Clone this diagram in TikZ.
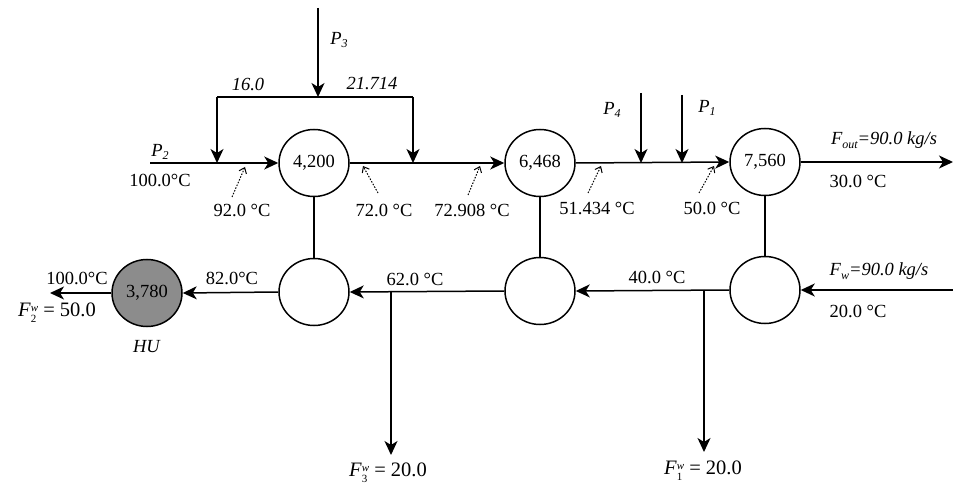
\documentclass[tikz,border=0pt]{standalone}
\usepackage{fontspec}
\setmainfont{Liberation Serif}
\usetikzlibrary{arrows.meta,shapes.geometric}
\newcommand\ssub[1]{\raisebox{-0.45ex}{\fontsize{12}{12}\selectfont #1}}
\newcommand\subsup[2]{\raisebox{-1pt}{\fontsize{11}{11}\selectfont\begin{tabular}{@{}l@{}}\itshape #2\\[0pt]#1\end{tabular}}}
\tikzset{
  unit/.style={draw, ellipse, line width=1.5pt, minimum width=70pt, minimum height=67pt, inner sep=0pt},
  hu/.style={unit, fill=black!45},
  flow/.style={line width=1.5pt, -{Stealth[length=14pt,width=13pt,inset=4pt]}},
  plain/.style={line width=1.5pt},
  probe/.style={line width=1pt, dash pattern=on 1.5pt off 1.5pt, -{Straight Barb[length=5pt,width=8pt]}},
  lbl/.style={inner sep=0pt, anchor=center},
  big/.style={lbl, font=\fontsize{20.5}{22}\selectfont}
}
\begin{document}
\begin{tikzpicture}[x=1pt,y=-1pt,font=\fontsize{18.5}{20}\selectfont]
\useasboundingbox (0,0) rectangle (953,486);
% units
\node[unit] (c1) at (314,163) {4,200};
\node[unit] (c2) at (540,163) {6,468};
\node[unit] (c3) at (765,162) {7,560};
\node[unit] (d1) at (314,292) {};
\node[unit] (d2) at (540,291) {};
\node[unit] (d3) at (765,290) {};
\node[hu] (h) at (147,293) {3,780};
% coordinates
\coordinate (p2in) at (150,163);
\coordinate (s1) at (217,163);
\coordinate (s2) at (413,163);
\coordinate (b1) at (217,97);
\coordinate (b2) at (413,97);
\coordinate (p3t) at (318,8);
\coordinate (p3b) at (318,97);
\coordinate (p4t) at (641,93);
\coordinate (p4b) at (641,163);
\coordinate (p1t) at (682,95);
\coordinate (p1b) at (682,163);
\coordinate (out) at (953,162);
\coordinate (fwin) at (953,290);
\coordinate (j1) at (704,290);
\coordinate (j1e) at (704,452);
\coordinate (j2) at (391,291);
\coordinate (j2e) at (391,455);
\coordinate (hout) at (50,293);
% top stream
\draw[plain] (p2in) -- (s1);
\draw[flow] (s1) -- (c1.west);
\draw[flow] (p3t) -- (p3b);
\draw[plain] (b1) -- (b2);
\draw[flow] (b1) -- (s1);
\draw[flow] (b2) -- (s2);
\draw[plain] (c1.east) -- (s2);
\draw[flow] (s2) -- (c2.west);
\draw[flow] (c2.east) -- (c3.west);
\draw[flow] (p4t) -- (p4b);
\draw[flow] (p1t) -- (p1b);
\draw[flow] (c3.east) -- (out);
% verticals
\draw[plain] (c1.south) -- (d1.north);
\draw[plain] (c2.south) -- (d2.north);
\draw[plain] (c3.south) -- (d3.north);
% bottom stream
\draw[flow] (fwin) -- (d3.east);
\draw[flow] (d3.west) -- (d2.east);
\draw[flow] (j1) -- (j1e);
\draw[flow] (d2.west) -- (d1.east);
\draw[flow] (j2) -- (j2e);
\draw[flow] (d1.west) -- (h.east);
\draw[flow] (h.west) -- (hout);
% probes
\coordinate (t1a) at (232,197); \coordinate (t1b) at (245,167);
\coordinate (t2a) at (378,193); \coordinate (t2b) at (363,166);
\coordinate (t3a) at (468,195); \coordinate (t3b) at (480,166);
\coordinate (t4a) at (588,193); \coordinate (t4b) at (601,166);
\coordinate (t5a) at (699,193); \coordinate (t5b) at (714,166);
\draw[probe] (t1a) -- (t1b);
\draw[probe] (t2a) -- (t2b);
\draw[probe] (t3a) -- (t3b);
\draw[probe] (t4a) -- (t4b);
\draw[probe] (t5a) -- (t5b);
% labels
\node[lbl] (lp3) at (339,40) {\textit{P}\ssub{\itshape 3}};
\node[lbl] (l16) at (248,84) {\textit{16.0}};
\node[lbl] (l21) at (372,84) {\textit{21.714}};
\node[lbl] (lp2) at (160,152) {\textit{P}\ssub{\itshape 2}};
\node[lbl] (lt100) at (160,180) {100.0°C};
\node[lbl] (l92) at (242,210) {92.0 °C};
\node[lbl] (l72) at (384,210) {72.0 °C};
\node[lbl] (l729) at (472,210) {72.908 °C};
\node[lbl] (l514) at (597,208) {51.434 °C};
\node[lbl] (l50) at (712,208) {50.0 °C};
\node[lbl] (lp4) at (612,110) {\textit{P}\ssub{\itshape 4}};
\node[lbl] (lp1) at (707,108) {\textit{P}\ssub{\itshape 1}};
\node[lbl] (lfout) at (884,140) {\textit{F\ssub{out}=90.0 kg/s}};
\node[lbl] (l30) at (858,181) {30.0 °C};
\node[lbl] (lfw) at (879,271) {\textit{F\ssub{w}=90.0 kg/s}};
\node[lbl] (l20) at (858,311) {20.0 °C};
\node[lbl] (l40) at (657,277) {40.0 °C};
\node[big] (lf1) at (703,472) {\textit{F}\subsup{1}{w}~= 20.0};
\node[lbl] (l62) at (415,279) {62.0 °C};
\node[big] (lf3) at (388,474) {\textit{F}\subsup{3}{w}~= 20.0};
\node[lbl] (l82) at (232,278) {82.0°C};
\node[lbl] (lb100) at (77,278) {100.0°C};
\node[big] (lf2) at (57,314) {\textit{F}\subsup{2}{w}~= 50.0};
\node[lbl] (lhu) at (147,347) {\textit{HU}};
\end{tikzpicture}
\end{document}
